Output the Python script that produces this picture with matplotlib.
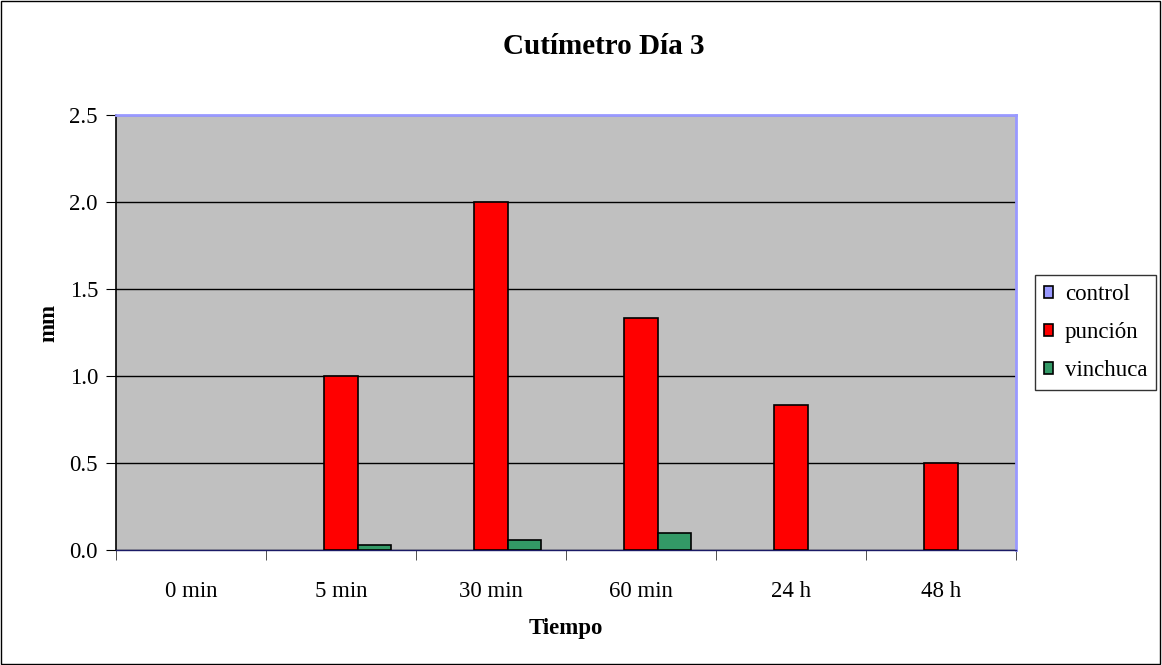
import matplotlib.pyplot as plt
import numpy as np
from matplotlib.patches import Rectangle

plt.rcParams['font.family'] = ['Liberation Serif', 'DejaVu Serif']

# Data
categories = ['0 min', '5 min', '30 min', '60 min', '24 h', '48 h']
control = [0, 0, 0, 0, 0, 0]
puncion = [0, 1.0, 2.0, 1.333, 0.833, 0.5]
vinchuca = [0, 0.03, 0.06, 0.1, 0, 0]

series = [('control', control, '#9999FF'),
          ('punción', puncion, '#FF0000'),
          ('vinchuca', vinchuca, '#339966')]

W, H = 1162, 665
fig = plt.figure(figsize=(W / 100, H / 100), dpi=100)
ax = fig.add_axes([116 / W, 1 - 550 / H, 900 / W, 435 / H])
ax.set_facecolor('#C0C0C0')

x = np.arange(len(categories))
w = 1 / 4.5
for i, (name, vals, col) in enumerate(series):
    # zero-height bars get no outline so they don't paint over the axis line
    lw = [1.2 if v > 0 else 0 for v in vals]
    ax.bar(x + (i - 1) * w, vals, width=w, color=col, edgecolor='black',
           linewidth=lw, label=name, zorder=3)

ax.set_xlim(-0.5, len(categories) - 0.5)
ax.set_ylim(0, 2.5)
ax.set_yticks(np.arange(0, 2.51, 0.5))
ax.set_yticklabels([f'{v:.1f}' for v in np.arange(0, 2.51, 0.5)], fontsize=16.5)
ax.yaxis.grid(True, color='black', linewidth=1)
ax.set_axisbelow(True)

# Category labels centred, tick marks on the boundaries
ax.set_xticks(x)
ax.set_xticklabels(categories, fontsize=16.5)
ax.tick_params(axis='x', length=0, pad=22)
ax.set_xticks(np.arange(-0.5, len(categories)), minor=True)
ax.tick_params(axis='x', which='minor', length=7, color='#333333')
ax.tick_params(axis='y', length=7, pad=6, color='black')

ax.spines['left'].set_color('black')
ax.spines['left'].set_linewidth(1.2)
ax.spines['bottom'].set_color('#1a1a66')
ax.spines['bottom'].set_linewidth(1)
for s in ['top', 'right']:
    ax.spines[s].set_color('#9999FF')
    ax.spines[s].set_linewidth(2)

fig.text(604 / W, 1 - 47 / H, 'Cutímetro Día 3', fontsize=21, fontweight='bold',
         ha='center', va='center')
ax.set_xlabel('Tiempo', fontsize=16.5, fontweight='bold', labelpad=12)
fig.text(49 / W, 1 - 323 / H, 'mm', fontsize=16.5, fontweight='bold',
         rotation=90, ha='center', va='center')

leg = ax.legend(loc='center left', bbox_to_anchor=(1.021, 0.5), fontsize=16.5,
                frameon=True, fancybox=False, edgecolor='black',
                handlelength=0.42, handleheight=0.42, handletextpad=0.5,
                labelspacing=0.74, borderpad=0.38, borderaxespad=0)
leg.get_frame().set_linewidth(1)
for h in leg.legend_handles:
    h.set_linewidth(1.2)

# Outer border of the chart
fig.patches.append(Rectangle((0.0005, 0.0008), 0.998, 0.998, transform=fig.transFigure,
                             fill=False, edgecolor='black', linewidth=1))

fig.savefig('out.png', dpi=100)
